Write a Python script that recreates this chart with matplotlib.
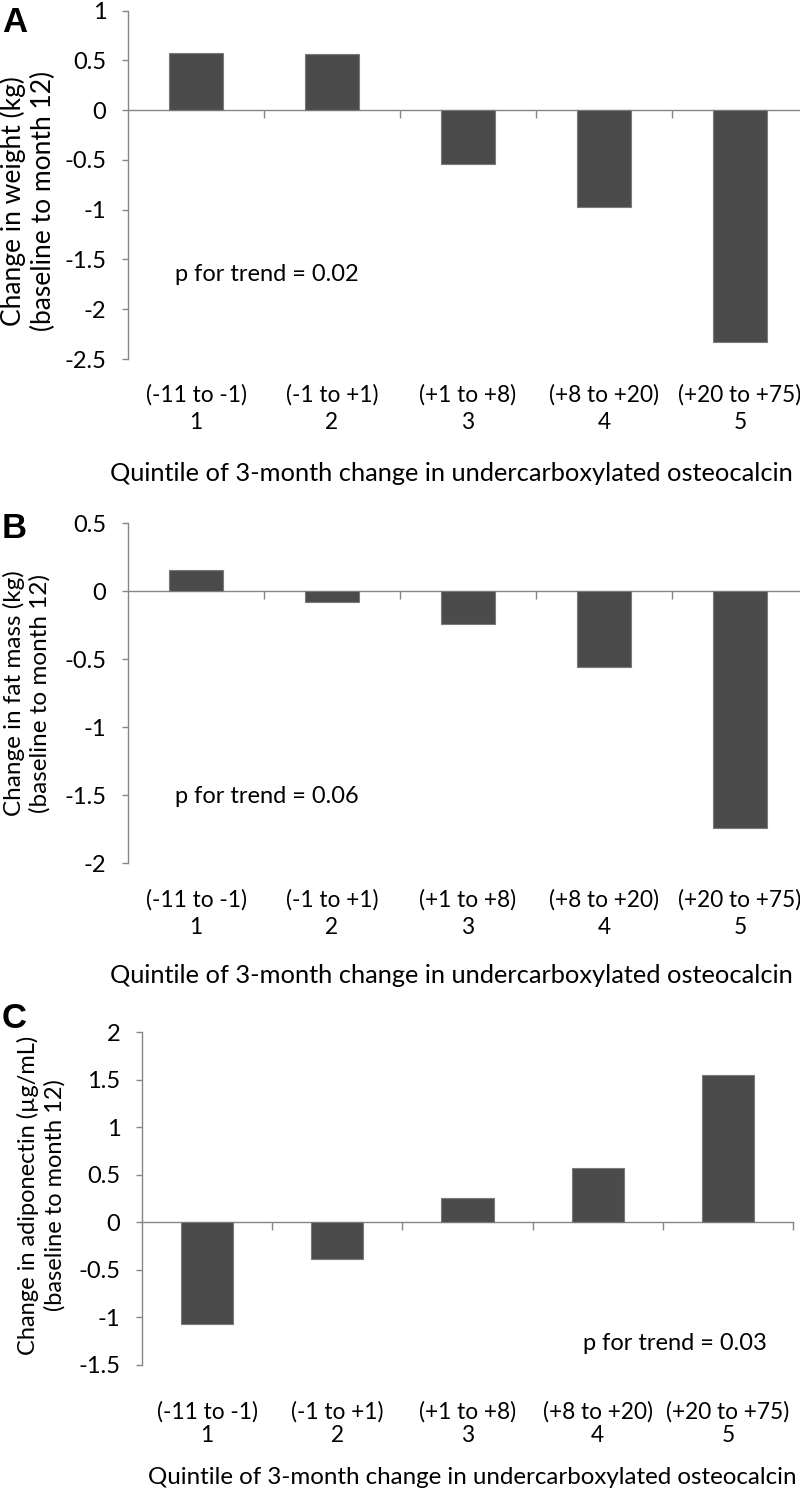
import matplotlib
matplotlib.use('Agg')
import matplotlib.pyplot as plt
import numpy as np

plt.rcParams['font.family'] = ['Lato', 'DejaVu Sans']

# data
categories = ['(-11 to -1)\n1', '(-1 to +1)\n2', '(+1 to +8)\n3',
              '(+8 to +20)\n4', '(+20 to +75)\n5']
weight_change = [0.57, 0.56, -0.54, -0.97, -2.33]
fat_change = [0.16, -0.08, -0.24, -0.56, -1.74]
adipo_change = [-1.07, -0.39, 0.25, 0.57, 1.55]
p_values = ['0.02', '0.06', '0.03']
xlabel = 'Quintile of 3-month change in undercarboxylated osteocalcin'

BAR = '#4b4b4b'
AXC = '#868686'

W, H = 800, 1490
fig = plt.figure(figsize=(W / 100, H / 100), dpi=100)


def px_axes(left, top, right, bottom):
    return fig.add_axes([left / W, 1 - bottom / H, (right - left) / W, (bottom - top) / H])


def panel(ax, values, ylim, yticks, ylabel, ylab_size, ylab_xy, xlab_size, xlab_xy,
          tick_pad, tick_ls, p_text, p_xy):
    x = np.arange(len(values))
    ax.bar(x, values, width=0.4, color=BAR, edgecolor='#7a7a7a', linewidth=0.8, zorder=2)
    ax.set_xlim(-0.5, len(values) - 0.5)
    ax.set_ylim(*ylim)
    ax.set_yticks(yticks)
    ax.set_yticklabels(['%g' % t for t in yticks])
    for s in ['top', 'right', 'bottom']:
        ax.spines[s].set_visible(False)
    ax.spines['left'].set_color(AXC)
    ax.spines['left'].set_linewidth(1.0)
    ax.tick_params(axis='y', direction='out', length=4.5, width=1.0, color=AXC,
                   labelsize=17, pad=11, labelcolor='black')
    ax.set_xticks(x)
    ax.set_xticklabels(categories)
    ax.tick_params(axis='x', length=0, labelsize=16.3, pad=tick_pad)
    for lbl in ax.get_xticklabels():
        lbl.set_linespacing(tick_ls)

    # zero line with category boundary ticks
    frac0 = (0 - ylim[0]) / (ylim[1] - ylim[0])
    sec = ax.secondary_xaxis(frac0)
    sec.set_alignment('bottom')
    sec.spines['bottom'].set_color(AXC)
    sec.spines['bottom'].set_linewidth(1.0)
    sec.set_xticks(np.arange(0.5, len(values), 1.0))
    sec.set_xticklabels([])
    sec.tick_params(axis='x', direction='out', length=6, width=1.0, color=AXC)

    ax.set_ylabel(ylabel, fontsize=ylab_size, linespacing=1.25)
    ax.yaxis.set_label_coords(*ylab_xy)
    ax.yaxis.label.set_va('center')
    ax.set_xlabel(xlabel, fontsize=xlab_size)
    ax.xaxis.set_label_coords(*xlab_xy)
    ax.xaxis.label.set_va('center')

    ax.text(p_xy[0], p_xy[1], 'p for trend = ' + p_text, fontsize=17,
            ha='left', va='center')


axA = px_axes(128, 10.7, 808, 359)
panel(axA, weight_change, (-2.5, 1), np.arange(-2.5, 1.01, 0.5),
      'Change in weight (kg)\n(baseline to month 12)', 19, (-0.147, 0.454),
      18.3, (0.476, -0.33), 18, 1.4, p_values[0], (-0.154, -1.65))

axB = px_axes(128, 523.3, 808, 863.3)
panel(axB, fat_change, (-2, 0.5), np.arange(-2, 0.51, 0.5),
      'Change in fat mass (kg)\n(baseline to month 12)', 17.5, (-0.149, 0.5),
      18.3, (0.476, -0.33), 18.5, 1.4, p_values[1], (-0.154, -1.51))

axC = px_axes(142, 1032, 793, 1364.7)
panel(axC, adipo_change, (-1.5, 2), np.arange(-1.5, 2.01, 0.5),
      'Change in adiponectin (µg/mL)\n(baseline to month 12)', 17, (-0.155, 0.51),
      17.4, (0.507, -0.34), 26, 1.15, p_values[2], (2.887, -1.28))

# panel letters
for letter, yc in [('A', 22.5), ('B', 528), ('C', 1018)]:
    fig.text(2 / W, 1 - yc / H, letter, fontsize=25, fontweight='bold',
             family='Liberation Sans', ha='left', va='center')

fig.savefig('out.png', dpi=100, facecolor='white')
